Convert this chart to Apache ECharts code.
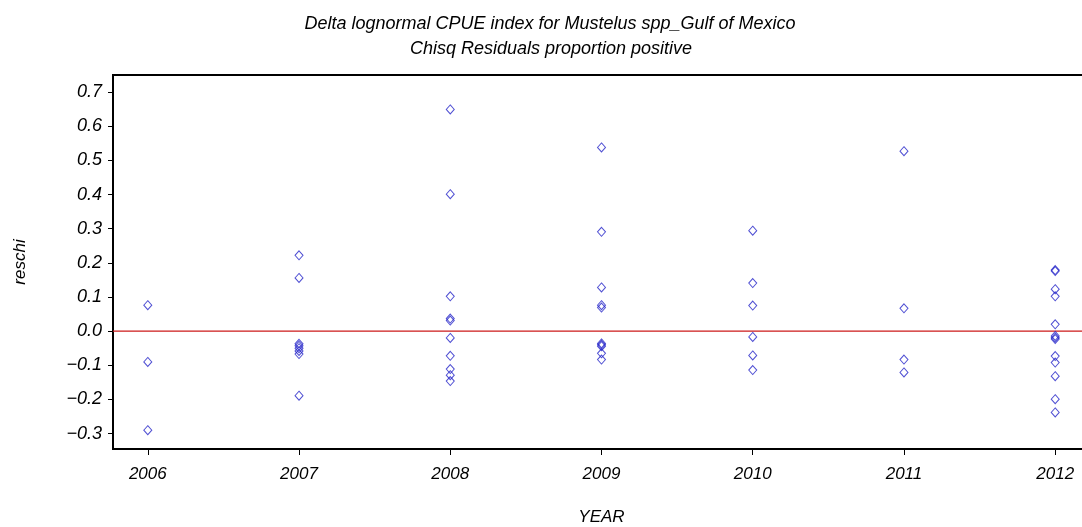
<!DOCTYPE html>
<html>
<head>
<meta charset="utf-8">
<script src="https://cdn.jsdelivr.net/npm/echarts@6/dist/echarts.min.js"></script>
<style>
html,body{margin:0;padding:0;background:#fff;}
#chart{width:1082px;height:527px;}
</style>
</head>
<body>
<div id="chart"></div>
<script>
var years = [2006, 2007, 2008, 2009, 2010, 2011, 2012];
var res2006 = [0.076, -0.090, -0.290];
var res2007 = [0.222, 0.156, -0.037, -0.043, -0.050, -0.058, -0.067, -0.189];
var res2008 = [0.649, 0.401, 0.102, 0.037, 0.031, -0.020, -0.072, -0.111, -0.129, -0.146];
var res2009 = [0.538, 0.291, 0.128, 0.076, 0.069, -0.036, -0.040, -0.044, -0.065, -0.083];
var res2010 = [0.294, 0.141, 0.075, -0.017, -0.071, -0.114];
var res2011 = [0.527, 0.067, -0.083, -0.121];
var res2012 = [0.179, 0.176, 0.123, 0.102, 0.020, -0.014, -0.019, -0.023, -0.073, -0.092, -0.132, -0.199, -0.238];
var yTicks = [-0.3, -0.2, -0.1, 0.0, 0.1, 0.2, 0.3, 0.4, 0.5, 0.6, 0.7];
var refValue = 0;
var titleLines = ['Delta lognormal CPUE index for Mustelus spp_Gulf of Mexico', 'Chisq Residuals proportion positive'];

var xMin = 2005.77, xMax = 2012.23;
var groups = [res2006, res2007, res2008, res2009, res2010, res2011, res2012];
var points = [];
groups.forEach(function (g, i) {
  g.forEach(function (v) { points.push([years[i], v]); });
});

var FONT = 'Liberation Sans';
var RED = '#cc1a1a';
var chart = echarts.init(document.getElementById('chart'));
chart.setOption({
  animation: false,
  backgroundColor: '#fff',
  title: [
    {text: titleLines[0], left: 545, textAlign: 'center', top: 10,
     textStyle: {fontFamily: FONT, fontStyle: 'italic', fontWeight: 'normal', fontSize: 18, color: '#000'}},
    {text: titleLines[1], left: 546, textAlign: 'center', top: 35,
     textStyle: {fontFamily: FONT, fontStyle: 'italic', fontWeight: 'normal', fontSize: 18, color: '#000'}}
  ],
  grid: {left: 113, top: 75, right: -8, bottom: 78, outerBoundsMode: 'none', containLabel: false,
         show: true, borderColor: '#000', borderWidth: 2, backgroundColor: 'transparent'},
  xAxis: {
    type: 'value', min: xMin, max: xMax,
    name: 'YEAR', nameLocation: 'middle', nameGap: 60,
    nameTextStyle: {fontFamily: FONT, fontStyle: 'italic', fontSize: 17, color: '#000'},
    axisLine: {show: true, onZero: false, lineStyle: {color: '#000', width: 2}},
    axisTick: {show: true, length: 6, customValues: years, lineStyle: {color: '#000'}},
    axisLabel: {customValues: years, margin: 17, formatter: function (v) { return String(v); },
      fontFamily: FONT, fontStyle: 'italic', fontSize: 17, color: '#000'},
    splitLine: {show: false}
  },
  yAxis: {
    type: 'value', min: -0.345, max: 0.75,
    name: 'reschi', nameLocation: 'middle', nameGap: 84, nameRotate: 90,
    nameTextStyle: {fontFamily: FONT, fontStyle: 'italic', fontSize: 17, color: '#000'},
    axisLine: {show: true, onZero: false, lineStyle: {color: '#000', width: 2}},
    axisTick: {show: true, length: 5, customValues: yTicks, lineStyle: {color: '#000'}},
    axisLabel: {customValues: yTicks, margin: 11, formatter: function (v) {
      var s = Math.abs(v).toFixed(1);
      return (v < -1e-9 ? '\u2212' : '') + s;
    }, fontFamily: FONT, fontStyle: 'italic', fontSize: 18, color: '#000'},
    splitLine: {show: false}
  },
  series: [{
    type: 'line',
    data: [[xMin, refValue], [xMax, refValue]],
    symbol: 'none',
    silent: true,
    z: 1,
    lineStyle: {color: RED, width: 1.3, type: 'solid'},
    itemStyle: {color: RED}
  }, {
    type: 'scatter',
    data: points,
    symbol: 'diamond',
    symbolSize: [8, 9],
    z: 3,
    itemStyle: {color: 'rgba(255,255,255,0)', borderColor: '#2424c8', borderWidth: 1}
  }]
});
</script>
</body>
</html>
